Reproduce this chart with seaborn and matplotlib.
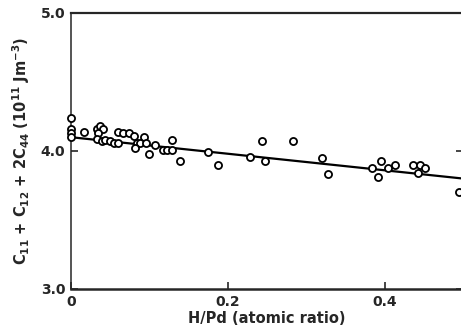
import matplotlib
matplotlib.use("Agg")
import matplotlib.pyplot as plt
import seaborn as sns
import pandas as pd

h_pd = [0, 0, 0, 0,
        0.017,
        0.033, 0.037, 0.041, 0.034, 0.033, 0.040, 0.043, 0.050, 0.055, 0.060,
        0.060, 0.066, 0.074, 0.080, 0.093, 0.084, 0.088, 0.082, 0.096, 0.107, 0.099,
        0.117, 0.122, 0.129, 0.129, 0.139, 0.175, 0.187,
        0.228, 0.243, 0.247, 0.283, 0.320, 0.327,
        0.383, 0.395, 0.391, 0.404, 0.413, 0.436, 0.445, 0.451, 0.442, 0.494]
modulus = [4.24, 4.16, 4.13, 4.10,
           4.14,
           4.16, 4.18, 4.16, 4.13, 4.09, 4.07, 4.08, 4.07, 4.06, 4.06,
           4.14, 4.13, 4.13, 4.11, 4.10, 4.06, 4.06, 4.02, 4.06, 4.04, 3.98,
           4.01, 4.01, 4.01, 4.08, 3.93, 3.99, 3.90,
           3.96, 4.07, 3.93, 4.07, 3.95, 3.83,
           3.88, 3.93, 3.81, 3.88, 3.90, 3.90, 3.90, 3.88, 3.84, 3.70]
fit_x = [0.0, 0.5]
fit_y = [4.10, 3.80]

x_ticks = [0, 0.2, 0.4]
x_ticklabels = ["0", "0.2", "0.4"]
y_ticks = [3.0, 4.0, 5.0]
y_ticklabels = ["3.0", "4.0", "5.0"]

sns.set_style("ticks")
plt.rcParams['font.family'] = ['DejaVu Sans']
plt.rcParams['font.weight'] = 'bold'
plt.rcParams['mathtext.fontset'] = 'custom'
plt.rcParams['mathtext.rm'] = 'DejaVu Sans:bold'
plt.rcParams['mathtext.it'] = 'DejaVu Sans:bold'
plt.rcParams['mathtext.default'] = 'rm'

df = pd.DataFrame({"x": h_pd, "y": modulus})
fit = pd.DataFrame({"x": fit_x, "y": fit_y})

fig = plt.figure(figsize=(4.61, 3.34), dpi=100)
ax = fig.add_axes([71/461, 45/334, 392/461, 276/334])

sns.lineplot(data=fit, x="x", y="y", ax=ax, color="black", linewidth=1.6)
sns.scatterplot(data=df, x="x", y="y", ax=ax, marker="o", s=26,
                facecolor="white", edgecolor="black", linewidth=1.3, zorder=3,
                clip_on=False)

ax.set_xlim(0, 0.4995)
ax.set_ylim(3.0, 5.0)
ax.set_xticks(x_ticks)
ax.set_xticklabels(x_ticklabels, fontweight="bold")
ax.set_yticks(y_ticks)
ax.set_yticklabels(y_ticklabels, fontweight="bold")
ax.tick_params(direction="in", length=5, width=1.2, labelsize=10,
               right=True, top=False, pad=4)

ax.spines["left"].set_linewidth(1.1)
ax.spines["top"].set_linewidth(1.6)
ax.spines["bottom"].set_linewidth(1.8)
ax.spines["right"].set_visible(False)

ax.set_xlabel("H/Pd (atomic ratio)", fontsize=10.5, fontweight="bold", labelpad=2)
ax.set_ylabel(r"C$_{11}$ + C$_{12}$ + 2C$_{44}$ (10$^{11}$ Jm$^{-3}$)",
              fontsize=10.5, fontweight="bold", labelpad=6)

fig.savefig("out.png", dpi=100)
